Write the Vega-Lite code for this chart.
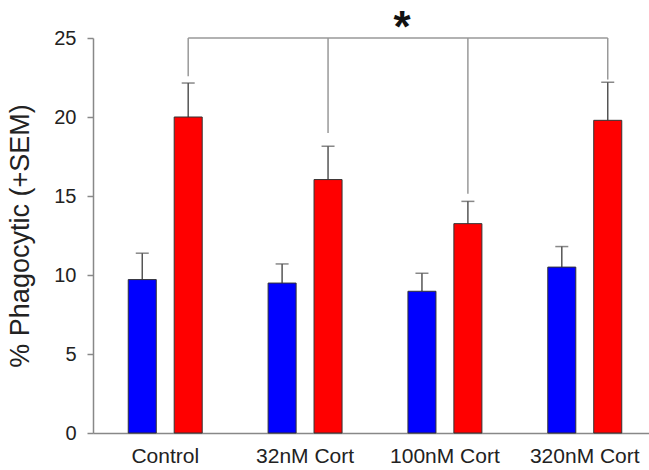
{
  "$schema": "https://vega.github.io/schema/vega-lite/v6.json",
  "width": 564,
  "height": 395,
  "autosize": {"type": "none"},
  "padding": {"left": 93, "top": 38, "right": 0, "bottom": 37},
  "background": "white",
  "config": {"view": {"stroke": null}, "font": "Liberation Sans"},
  "datasets": {
    "bars": [
      {"group": "Control", "series": "blue", "value": 9.71, "err": 11.38},
      {"group": "Control", "series": "red", "value": 20.0, "err": 22.15},
      {"group": "32nM Cort", "series": "blue", "value": 9.49, "err": 10.7},
      {"group": "32nM Cort", "series": "red", "value": 16.04, "err": 18.15},
      {"group": "100nM Cort", "series": "blue", "value": 8.97, "err": 10.11},
      {"group": "100nM Cort", "series": "red", "value": 13.25, "err": 14.66},
      {"group": "320nM Cort", "series": "blue", "value": 10.5, "err": 11.8},
      {"group": "320nM Cort", "series": "red", "value": 19.79, "err": 22.2}
    ],
    "bracketDrops": [
      {"group": "Control", "series": "red", "bottom": 22.58, "top": 25},
      {"group": "32nM Cort", "series": "red", "bottom": 18.99, "top": 25},
      {"group": "100nM Cort", "series": "red", "bottom": 15.15, "top": 25},
      {"group": "320nM Cort", "series": "red", "bottom": 22.37, "top": 25}
    ],
    "bracketTop": [
      {"group": "Control", "series": "red", "y": 25},
      {"group": "320nM Cort", "series": "red", "y": 25}
    ],
    "star": [
      {"group": "100nM Cort", "series": "blue", "y": 26.1, "label": "*"}
    ]
  },
  "layer": [
    {
      "data": {"name": "bars"},
      "mark": {"type": "rule", "color": "#555555", "strokeWidth": 1.5},
      "encoding": {
        "x": {"field": "group", "type": "nominal", "sort": ["Control", "32nM Cort", "100nM Cort", "320nM Cort"], "scale": {"paddingInner": 0, "paddingOuter": 0.0165},
          "axis": {"title": null, "ticks": false, "labelAngle": 0, "labelFontSize": 21, "labelColor": "#222222", "labelPadding": 12, "domainColor": "#888888", "domainWidth": 1.5}},
        "xOffset": {"field": "series", "type": "nominal", "sort": ["blue", "red"], "scale": {"paddingInner": 0.39, "paddingOuter": 0.717}},
        "y": {"field": "value", "type": "quantitative", "scale": {"domain": [0, 25], "nice": false},
          "axis": {"title": "% Phagocytic (+SEM)", "titleFontSize": 27, "titleFontWeight": "normal", "titleColor": "#222222", "titlePadding": 19,
            "values": [0, 5, 10, 15, 20, 25], "grid": false, "labelFontSize": 20, "labelColor": "#222222", "labelPadding": 11, "tickSize": 6, "tickColor": "#888888", "tickWidth": 1.5, "domainColor": "#888888", "domainWidth": 1.5}},
        "y2": {"field": "err"}
      }
    },
    {
      "data": {"name": "bars"},
      "mark": {"type": "tick", "color": "#555555", "thickness": 1.5, "size": 13},
      "encoding": {
        "x": {"field": "group", "type": "nominal", "sort": ["Control", "32nM Cort", "100nM Cort", "320nM Cort"]},
        "xOffset": {"field": "series", "type": "nominal", "sort": ["blue", "red"]},
        "y": {"field": "err", "type": "quantitative"}
      }
    },
    {
      "data": {"name": "bars"},
      "mark": {"type": "bar", "stroke": "#333333", "strokeWidth": 1},
      "encoding": {
        "x": {"field": "group", "type": "nominal", "sort": ["Control", "32nM Cort", "100nM Cort", "320nM Cort"]},
        "xOffset": {"field": "series", "type": "nominal", "sort": ["blue", "red"]},
        "y": {"field": "value", "type": "quantitative"},
        "color": {"field": "series", "type": "nominal", "scale": {"domain": ["blue", "red"], "range": ["#0000FF", "#FF0000"]}, "legend": null}
      }
    },
    {
      "data": {"name": "bracketDrops"},
      "mark": {"type": "rule", "color": "#999999", "strokeWidth": 1.5},
      "encoding": {
        "x": {"field": "group", "type": "nominal", "sort": ["Control", "32nM Cort", "100nM Cort", "320nM Cort"]},
        "xOffset": {"field": "series", "type": "nominal", "sort": ["blue", "red"]},
        "y": {"field": "bottom", "type": "quantitative"},
        "y2": {"field": "top"}
      }
    },
    {
      "data": {"name": "bracketTop"},
      "mark": {"type": "line", "color": "#999999", "strokeWidth": 1.5},
      "encoding": {
        "x": {"field": "group", "type": "nominal", "sort": ["Control", "32nM Cort", "100nM Cort", "320nM Cort"]},
        "xOffset": {"field": "series", "type": "nominal", "sort": ["blue", "red"]},
        "y": {"field": "y", "type": "quantitative"}
      }
    },
    {
      "data": {"name": "star"},
      "mark": {"type": "text", "fontSize": 44, "fontWeight": "bold", "color": "#111111", "dx": -20, "dy": 8, "baseline": "middle", "clip": false},
      "encoding": {
        "x": {"field": "group", "type": "nominal", "sort": ["Control", "32nM Cort", "100nM Cort", "320nM Cort"]},
        "xOffset": {"field": "series", "type": "nominal", "sort": ["blue", "red"]},
        "y": {"field": "y", "type": "quantitative"},
        "text": {"field": "label"}
      }
    }
  ]
}
